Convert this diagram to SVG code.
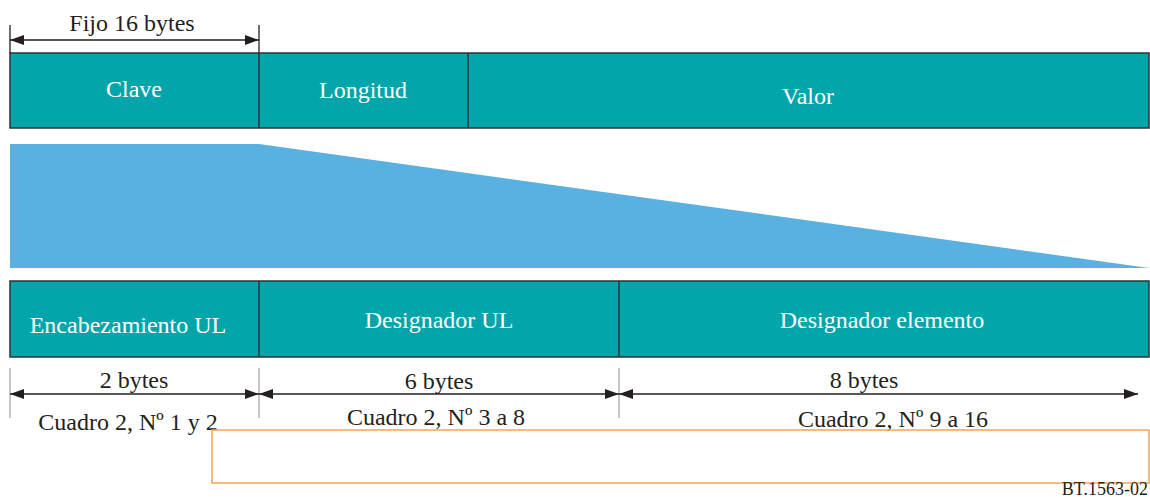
<svg xmlns="http://www.w3.org/2000/svg" width="1150" height="497" viewBox="0 0 1150 497">
<style>
.box{fill:#02A5AA;stroke:#2B3438;stroke-width:1.5}
.w{fill:#fff;font-family:"Liberation Serif",serif;font-size:24px;text-anchor:middle}
.t{fill:#231F20;font-family:"Liberation Serif",serif;font-size:24px;text-anchor:middle}
.dim{stroke:#231F20;stroke-width:1.3;fill:none;marker-start:url(#ah);marker-end:url(#ah)}
.tick{stroke:#A7A9AC;stroke-width:1.3}
</style>
<defs>
<marker id="ah" viewBox="0 0 14 10" refX="14" refY="5" markerWidth="14" markerHeight="11" markerUnits="userSpaceOnUse" orient="auto-start-reverse">
<path d="M0,0 L14,5 L0,10 Z" fill="#231F20"/>
</marker>
</defs>
<g id="top-row">
<rect class="box" x="10" y="53" width="1139" height="75"/>
<line x1="259" y1="53" x2="259" y2="128" stroke="#2B3438" stroke-width="1.5"/>
<line x1="468" y1="53" x2="468" y2="128" stroke="#2B3438" stroke-width="1.5"/>
</g>
<g id="clave"><text class="w" x="134" y="97">Clave</text></g>
<g id="longitud"><text class="w" x="363" y="98">Longitud</text></g>
<g id="valor"><text class="w" x="808" y="104">Valor</text></g>
<g id="expansion"><polygon points="10,144 259,144 1149,268 10,268" fill="#58B1E0"/></g>
<g id="bottom-row">
<rect class="box" x="10" y="281" width="1139" height="76"/>
<line x1="259" y1="281" x2="259" y2="357" stroke="#2B3438" stroke-width="1.5"/>
<line x1="619" y1="281" x2="619" y2="357" stroke="#2B3438" stroke-width="1.5"/>
</g>
<g id="encabezamiento"><text class="w" x="128" y="333">Encabezamiento UL</text></g>
<g id="designador-ul"><text class="w" x="439" y="328">Designador UL</text></g>
<g id="designador-elemento"><text class="w" x="882" y="328">Designador elemento</text></g>
<g id="connectors">
<line x1="10" y1="25" x2="10" y2="53" stroke="#231F20" stroke-width="1.3"/>
<line x1="259" y1="25" x2="259" y2="53" stroke="#231F20" stroke-width="1.3"/>
<line class="dim" x1="10" y1="40" x2="259" y2="40"/>
<line class="tick" x1="10" y1="368" x2="10" y2="418"/>
<line class="tick" x1="259" y1="368" x2="259" y2="418"/>
<line class="tick" x1="619" y1="368" x2="619" y2="418"/>
<line class="dim" x1="10" y1="394" x2="259" y2="394"/>
<line class="dim" x1="259" y1="394" x2="619" y2="394"/>
<line class="dim" x1="619" y1="394" x2="1138" y2="394"/>
</g>
<g id="labels">
<text class="t" x="132" y="31">Fijo 16 bytes</text>
<text class="t" x="134" y="388">2 bytes</text>
<text class="t" x="439" y="389">6 bytes</text>
<text class="t" x="864" y="388">8 bytes</text>
<text class="t" x="128" y="430">Cuadro 2, Nº 1 y 2</text>
<text class="t" x="436" y="425">Cuadro 2, Nº 3 a 8</text>
<text class="t" x="893" y="427">Cuadro 2, Nº 9 a 16</text>
</g>
<g id="frame"><rect x="212" y="430" width="937" height="53" fill="none" stroke="#F5A458" stroke-width="1.5"/></g>
<text x="1148" y="495" fill="#231F20" font-family="'Liberation Serif',serif" font-size="18" text-anchor="end">BT.1563-02</text>
</svg>
